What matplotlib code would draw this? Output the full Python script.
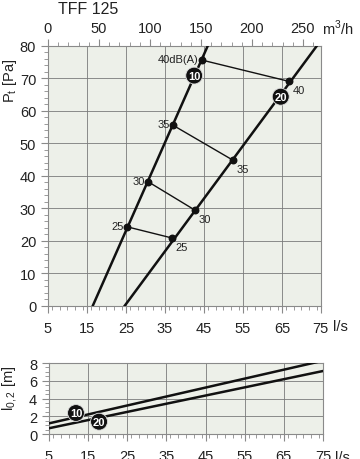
import matplotlib
matplotlib.use("Agg")
import matplotlib.pyplot as plt
from matplotlib.ticker import MultipleLocator

plt.rcParams['font.family'] = ['Liberation Sans', 'DejaVu Sans']

# ---- data ----
title = "TFF 125"
# Pressure lines (l/s, Pa): endpoints of the straight characteristic lines
line10_q = [16.5, 46.0]
line10_p = [0.0, 80.0]
line20_q = [24.7, 74.0]
line20_p = [0.0, 80.0]
# sound-level points on each line
db_levels = ["25", "30", "35", "40"]
pts10_q = [25.2, 30.6, 37.1, 44.4]
pts10_p = [24.3, 38.2, 55.5, 75.6]
pts20_q = [36.9, 42.7, 52.4, 66.9]
pts20_p = [20.8, 29.4, 44.8, 69.0]
lab10_pos = (42.5, 70.8)
lab20_pos = (64.7, 64.3)
# throw length l0,2 (l/s, m)
throw10_q = [5.0, 75.0]
throw10_l = [1.2, 8.26]
throw20_q = [5.0, 75.0]
throw20_l = [0.65, 7.1]
tlab10_pos = (11.9, 2.37)
tlab20_pos = (17.8, 1.39)

x_ticks = [5, 15, 25, 35, 45, 55, 65, 75]
top_ticks = [0, 50, 100, 150, 200, 250]

bg = "#edf0e9"
spine_c = "#8a8a8a"
grid_c = "#7a7a7a"
txt_c = "#222222"

fig = plt.figure(figsize=(3.6, 4.6), dpi=100)
fig.patch.set_facecolor("white")

def style_axes(ax):
    ax.set_facecolor(bg)
    for s in ax.spines.values():
        s.set_color(spine_c)
        s.set_linewidth(0.8)
    ax.tick_params(which="both", direction="out", color=spine_c, labelsize=10.5,
                   labelcolor=txt_c)
    ax.tick_params(which="major", length=5, width=0.8)
    ax.tick_params(which="minor", length=3, width=0.6)
    ax.grid(True, which="major", color=grid_c, linewidth=0.6)

# ---- main chart ----
ax = fig.add_axes([0.1333, 0.3333, 0.758, 0.5652])
style_axes(ax)
ax.set_xlim(5, 75)
ax.set_ylim(0, 80)
ax.set_xticks(x_ticks)
ax.xaxis.set_minor_locator(MultipleLocator(2))
ax.set_yticks(range(0, 81, 10))
ax.yaxis.set_minor_locator(MultipleLocator(2))
ax.tick_params(axis="x", which="both", pad=6)

ax.plot(line10_q, line10_p, color="#111111", lw=1.8, zorder=3)
ax.plot(line20_q, line20_p, color="#111111", lw=1.8, zorder=3)
for q1, p1, q2, p2 in zip(pts10_q, pts10_p, pts20_q, pts20_p):
    ax.plot([q1, q2], [p1, p2], color="#111111", lw=1.0, zorder=3)
ax.scatter(pts10_q, pts10_p, s=22, color="#111111", zorder=4)
ax.scatter(pts20_q, pts20_p, s=22, color="#111111", zorder=4)
for i, (lv, q, p) in enumerate(zip(db_levels, pts10_q, pts10_p)):
    txt = lv + "dB(A)" if i == len(db_levels) - 1 else lv
    ax.text(q - 0.8, p + 0.3, txt, fontsize=8, ha="right", va="center",
            color=txt_c, zorder=5)
for lv, q, p in zip(db_levels, pts20_q, pts20_p):
    ax.text(q + 0.9, p - 2.6, lv, fontsize=8, ha="left", va="center",
            color=txt_c, zorder=5)

def circ_label(a, pos, txt, fs=8):
    a.text(pos[0], pos[1], txt, fontsize=fs, ha="center", va="center",
           color="white", fontweight="bold", zorder=6,
           bbox=dict(boxstyle="circle,pad=0.2", fc="#111111", ec="#dddddd", lw=0.6))

circ_label(ax, lab10_pos, "10")
circ_label(ax, lab20_pos, "20")

ax.set_ylabel("P$_\\mathregular{t}$ [Pa]", fontsize=10.5, color=txt_c)
ax.yaxis.set_label_coords(-0.105, 0.87)
ax.text(1.045, -0.078, "l/s", transform=ax.transAxes, fontsize=10.5,
        ha="left", va="center", color=txt_c)

# top m3/h axis
axt = ax.twiny()
axt.set_xlim(0, 267.6)
axt.set_xticks(top_ticks)
axt.xaxis.set_minor_locator(MultipleLocator(10))
for s in axt.spines.values():
    s.set_visible(False)
axt.tick_params(which="both", direction="out", color=spine_c, labelsize=10.5,
                labelcolor=txt_c, pad=3)
axt.tick_params(which="major", length=5, width=0.8)
axt.tick_params(which="minor", length=3, width=0.6)
axt.text(1.005, 1.07, "m$^\\mathregular{3}$/h", transform=ax.transAxes, fontsize=10.5,
         ha="left", va="center", color=txt_c)

fig.text(0.16, 1 - 13.5 / 460, title, fontsize=11.5, ha="left", va="baseline", color=txt_c)

# ---- throw chart ----
ax2 = fig.add_axes([0.136, 0.0543, 0.761, 0.1543])
style_axes(ax2)
ax2.set_xlim(5, 75)
ax2.set_ylim(0, 8)
ax2.set_xticks(x_ticks)
ax2.xaxis.set_minor_locator(MultipleLocator(2))
ax2.set_yticks(range(0, 9, 2))
ax2.yaxis.set_minor_locator(MultipleLocator(0.5))
ax2.tick_params(axis="x", which="both", pad=6)
ax2.plot(throw10_q, throw10_l, color="#111111", lw=1.8, zorder=3)
ax2.plot(throw20_q, throw20_l, color="#111111", lw=1.8, zorder=3)
circ_label(ax2, tlab10_pos, "10")
circ_label(ax2, tlab20_pos, "20")
ax2.set_ylabel("l$_\\mathregular{0,2}$ [m]", fontsize=10.5, color=txt_c)
ax2.yaxis.set_label_coords(-0.105, 0.66)
ax2.text(1.045, -0.33, "l/s", transform=ax2.transAxes, fontsize=10.5,
         ha="left", va="center", color=txt_c)

fig.savefig("out.png", dpi=100)
